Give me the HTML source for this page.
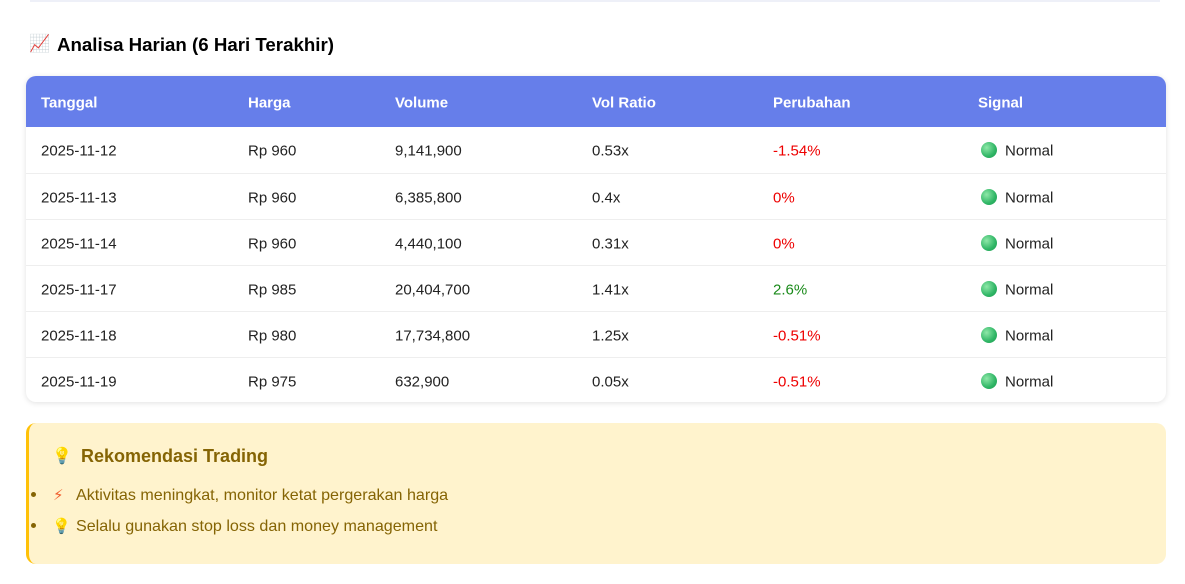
<!DOCTYPE html>
<html><head><meta charset="utf-8"><style>
body{margin:0;width:1185px;height:584px;background:#fff;font-family:"Liberation Sans","DejaVu Sans",sans-serif;position:relative;overflow:hidden}
.a{position:absolute;white-space:nowrap}
.h{font-weight:bold;font-size:18.7px;color:#000}
.tbl{position:absolute;left:26px;top:76px;width:1140px;height:326px;border-radius:10px;box-shadow:0 1px 6px rgba(0,0,0,.12);overflow:hidden;background:#fff}
.hd{position:absolute;left:0;top:0;width:1140px;height:51px;background:#667eea}
.row{position:absolute;left:0;width:1140px;height:46px;border-top:1px solid #eee}
.c{position:absolute;font-size:15px;color:#222;top:50%;transform:translateY(-45%)}
.hc{color:#fff;font-weight:bold}
.dot{position:absolute;left:955px;top:15px;width:16px;height:16px;border-radius:50%;background:radial-gradient(circle at 35% 35%,#8ee8a8,#2fb565 60%,#1f9a50)}
.red{color:#e00}.grn{color:#1a8a1a}
.box{position:absolute;left:26px;top:423px;width:1137px;height:141px;background:#fff3cd;border-left:3px solid #ffc107;border-radius:10px}
</style></head><body>
<div class="a" style="left:30px;top:0;width:1130px;height:2px;background:#eef0f8"></div>
<div class="a" style="left:29px;top:34px;font-size:17px">📈</div>
<div class="a h" style="left:57px;top:34px">Analisa Harian (6 Hari Terakhir)</div>
<div class="tbl">
<div class="hd">
<span class="c hc" style="left:15px">Tanggal</span><span class="c hc" style="left:222px">Harga</span><span class="c hc" style="left:369px">Volume</span><span class="c hc" style="left:566px">Vol Ratio</span><span class="c hc" style="left:747px">Perubahan</span><span class="c hc" style="left:952px">Signal</span>
</div>
<div class="row" style="top:51px;border-top:none"><span class="c" style="left:15px">2025-11-12</span><span class="c" style="left:222px">Rp 960</span><span class="c" style="left:369px">9,141,900</span><span class="c" style="left:566px">0.53x</span><span class="c red" style="left:747px">-1.54%</span><div class="dot"></div><span class="c" style="left:979px">Normal</span></div>
<div class="row" style="top:97px"><span class="c" style="left:15px">2025-11-13</span><span class="c" style="left:222px">Rp 960</span><span class="c" style="left:369px">6,385,800</span><span class="c" style="left:566px">0.4x</span><span class="c red" style="left:747px">0%</span><div class="dot"></div><span class="c" style="left:979px">Normal</span></div>
<div class="row" style="top:143px"><span class="c" style="left:15px">2025-11-14</span><span class="c" style="left:222px">Rp 960</span><span class="c" style="left:369px">4,440,100</span><span class="c" style="left:566px">0.31x</span><span class="c red" style="left:747px">0%</span><div class="dot"></div><span class="c" style="left:979px">Normal</span></div>
<div class="row" style="top:189px"><span class="c" style="left:15px">2025-11-17</span><span class="c" style="left:222px">Rp 985</span><span class="c" style="left:369px">20,404,700</span><span class="c" style="left:566px">1.41x</span><span class="c grn" style="left:747px">2.6%</span><div class="dot"></div><span class="c" style="left:979px">Normal</span></div>
<div class="row" style="top:235px"><span class="c" style="left:15px">2025-11-18</span><span class="c" style="left:222px">Rp 980</span><span class="c" style="left:369px">17,734,800</span><span class="c" style="left:566px">1.25x</span><span class="c red" style="left:747px">-0.51%</span><div class="dot"></div><span class="c" style="left:979px">Normal</span></div>
<div class="row" style="top:281px"><span class="c" style="left:15px">2025-11-19</span><span class="c" style="left:222px">Rp 975</span><span class="c" style="left:369px">632,900</span><span class="c" style="left:566px">0.05x</span><span class="c red" style="left:747px">-0.51%</span><div class="dot"></div><span class="c" style="left:979px">Normal</span></div>
</div>
<div class="box"></div>
<div class="a" style="left:52px;top:446px;font-size:16px">💡</div>
<div class="a" style="left:81px;top:446px;font-size:18px;font-weight:bold;color:#856404">Rekomendasi Trading</div>
<div class="a" style="left:31px;top:492px;width:5px;height:5px;border-radius:50%;background:#856404"></div>
<div class="a" style="left:53px;top:486px;font-size:15px;color:#f06030">⚡</div>
<div class="a" style="left:76px;top:486px;font-size:16.1px;color:#856404">Aktivitas meningkat, monitor ketat pergerakan harga</div>
<div class="a" style="left:31px;top:523px;width:5px;height:5px;border-radius:50%;background:#856404"></div>
<div class="a" style="left:52px;top:517px;font-size:15px">💡</div>
<div class="a" style="left:76px;top:517px;font-size:16.1px;color:#856404">Selalu gunakan stop loss dan money management</div>
</body></html>
